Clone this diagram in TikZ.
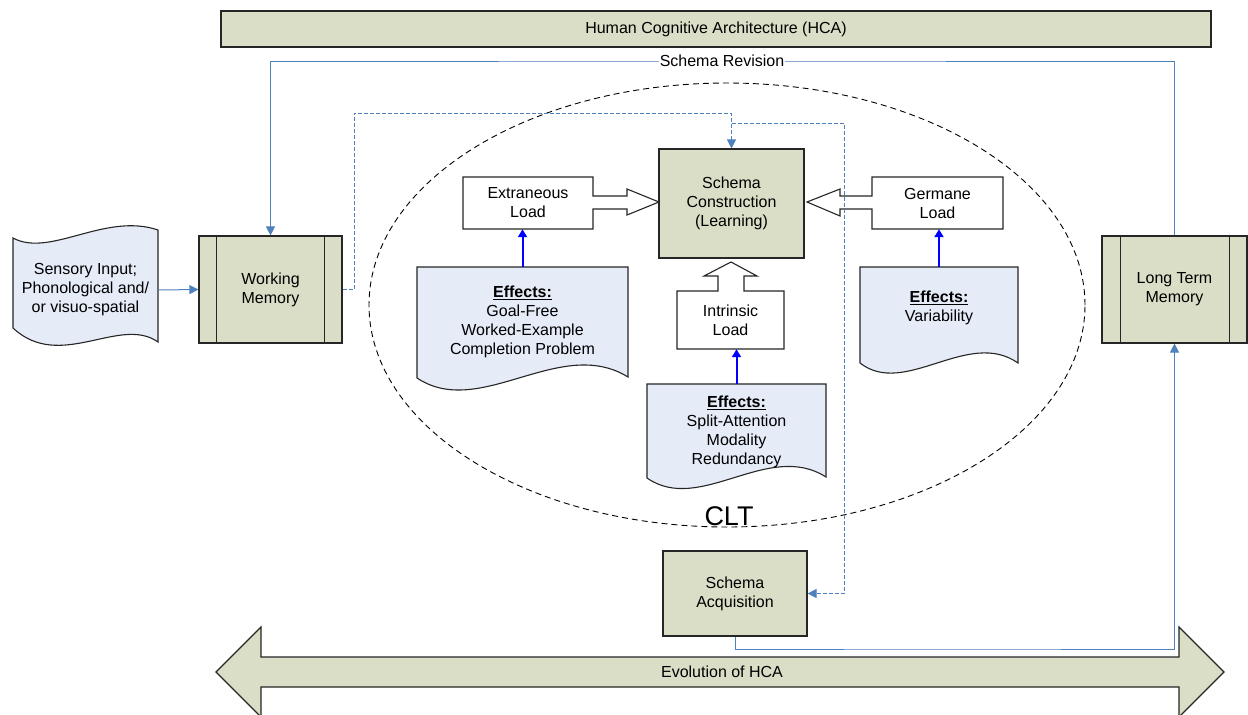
\documentclass[tikz,border=0pt]{standalone}
\usepackage{fontspec}
\setmainfont{Liberation Sans}
\usetikzlibrary{arrows.meta,shapes.geometric}
\definecolor{hcaolive}{RGB}{218,222,199}
\definecolor{docblue}{RGB}{229,235,247}
\definecolor{linkblue}{RGB}{79,129,189}
\begin{document}
\begin{tikzpicture}[x=1pt,y=-1pt,
  txt/.style={font=\fontsize{16}{19}\selectfont, align=center, inner sep=0pt},
  olivebox/.style={txt, draw=black!85, line width=1.1pt, fill=hcaolive},
  frame/.style={txt, draw=none},
  shapeline/.style={draw=black!85, line width=1.1pt},
  blueline/.style={draw=linkblue, line width=1pt, -{Triangle[length=9pt,width=9pt]}},
  bluedash/.style={blueline, dash pattern=on 4pt off 2pt},
  effarrow/.style={draw=blue, line width=2pt, -{Triangle[length=8pt,width=9pt]}}
]
\useasboundingbox (0,0) rectangle (1248,715);
\fill[white] (0,0) rectangle (1248,715);

% Top bar
\node[olivebox, minimum width=990, minimum height=36] (hca) at (716,29) {Human Cognitive Architecture (HCA)};

% Evolution double arrow
\path[shapeline, fill=hcaolive] (216,672) -- (261,627) -- (261,657) -- (1179,657) -- (1179,627) -- (1224,672) -- (1179,717) -- (1179,687) -- (261,687) -- (261,717) -- cycle;
\node[txt] (evolution) at (722,672) {Evolution of HCA};

% CLT ellipse
\node[ellipse, draw=black, line width=0.9pt, dash pattern=on 6pt off 4pt, minimum width=716, minimum height=444, inner sep=0pt] (clt) at (727,305) {};
\node[inner sep=0pt, font=\fontsize{27}{27}\selectfont] (cltlabel) at (729,516) {CLT};

% Sensory input (tape shape)
\path[shapeline, fill=docblue] (13,238) .. controls (50,258) and (105,212) .. (158,230) -- (158,342) .. controls (120,315) and (60,372) .. (13,328) -- cycle;
\node[frame, minimum width=145, minimum height=95] (sens) at (85.5,290) {Sensory Input;\\Phonological and/\\or visuo-spatial};

% Working memory
\node[olivebox, minimum width=143, minimum height=107] (wm) at (270.5,289.5) {Working\\Memory};
\draw[shapeline] ([xshift=18]wm.north west) -- ([xshift=18]wm.south west);
\draw[shapeline] ([xshift=-18]wm.north east) -- ([xshift=-18]wm.south east);

% Long term memory
\node[olivebox, minimum width=145, minimum height=107] (ltm) at (1174.5,289.5) {Long Term\\Memory};
\draw[shapeline] ([xshift=19]ltm.north west) -- ([xshift=19]ltm.south west);
\draw[shapeline] ([xshift=-18]ltm.north east) -- ([xshift=-18]ltm.south east);

% Schema construction
\node[olivebox, minimum width=145, minimum height=109] (sc) at (731.5,203.5) {Schema\\Construction\\(Learning)};

% Schema acquisition
\node[olivebox, minimum width=144, minimum height=85] (sa) at (735,593.5) {Schema\\Acquisition};

% Extraneous load with block arrow
\path[shapeline, fill=white] (463,177) -- (593,177) -- (593,196) -- (627,196) -- (627,189) -- (659,202) -- (627,215) -- (627,209) -- (593,209) -- (593,229) -- (463,229) -- cycle;
\node[frame, minimum width=130, minimum height=52] (ext) at (528,203) {Extraneous\\Load};

% Germane load with block arrow
\path[shapeline, fill=white] (1003,177) -- (872,177) -- (872,196) -- (840,196) -- (840,189) -- (807,202) -- (840,216) -- (840,209) -- (872,209) -- (872,229) -- (1003,229) -- cycle;
\node[frame, minimum width=131, minimum height=52] (ger) at (937.5,203) {Germane\\Load};

% Intrinsic load with block arrow
\path[shapeline, fill=white] (677,291) -- (718,291) -- (718,276) -- (704,276) -- (731,262) -- (757,276) -- (744,276) -- (744,291) -- (784,291) -- (784,349) -- (677,349) -- cycle;
\node[frame, minimum width=107, minimum height=58] (intr) at (730.5,320) {Intrinsic\\Load};

% Effects documents
\path[shapeline, fill=docblue] (417,267) -- (628,267) -- (628,377) .. controls (560,335) and (480,420) .. (417,378) -- cycle;
\node[frame, minimum width=211, minimum height=110] (eff1) at (522.5,322) {\underline{\textbf{Effects:}}\\Goal-Free\\Worked-Example\\Completion Problem};

\path[shapeline, fill=docblue] (647,384) -- (826,384) -- (826,477) .. controls (768,440) and (700,515) .. (647,478) -- cycle;
\node[frame, minimum width=179, minimum height=96] (eff2) at (736.5,432) {\underline{\textbf{Effects:}}\\Split-Attention\\Modality\\Redundancy};

\path[shapeline, fill=docblue] (860,267) -- (1018,267) -- (1018,363) .. controls (968,328) and (905,398) .. (860,363) -- cycle;
\node[frame, minimum width=158, minimum height=82] (eff3) at (939,308) {\underline{\textbf{Effects:}}\\Variability};

% Effects arrows
\draw[effarrow] (eff1.north) -- (eff1.north |- ext.south);
\draw[effarrow] (eff2.north) -- (eff2.north |- intr.south);
\draw[effarrow] (eff3.north) -- (eff3.north |- ger.south);

% Sensory -> WM
\draw[blueline] (sens.east) -- (wm.west);

% Schema revision loop
\coordinate (sr) at (722,61);
\draw[blueline] (ltm.north) |- (sr) -| (wm.north);
\node[txt, fill=white, inner xsep=1pt, inner ysep=1pt] (srlabel) at (sr) {Schema Revision};

% Dashed WM -> SC
\coordinate (d1) at (354,113);
\draw[bluedash] (wm.east) -| (d1) -| (sc.north);
\coordinate (d2) at (844,123);
\draw[bluedash] (sc.north |- d2) -- (d2) |- (sa.east);

% SA -> LTM
\coordinate (evo) at (950,649);
\draw[blueline] (sa.south) |- (evo) -| (ltm.south);
\end{tikzpicture}
\end{document}
